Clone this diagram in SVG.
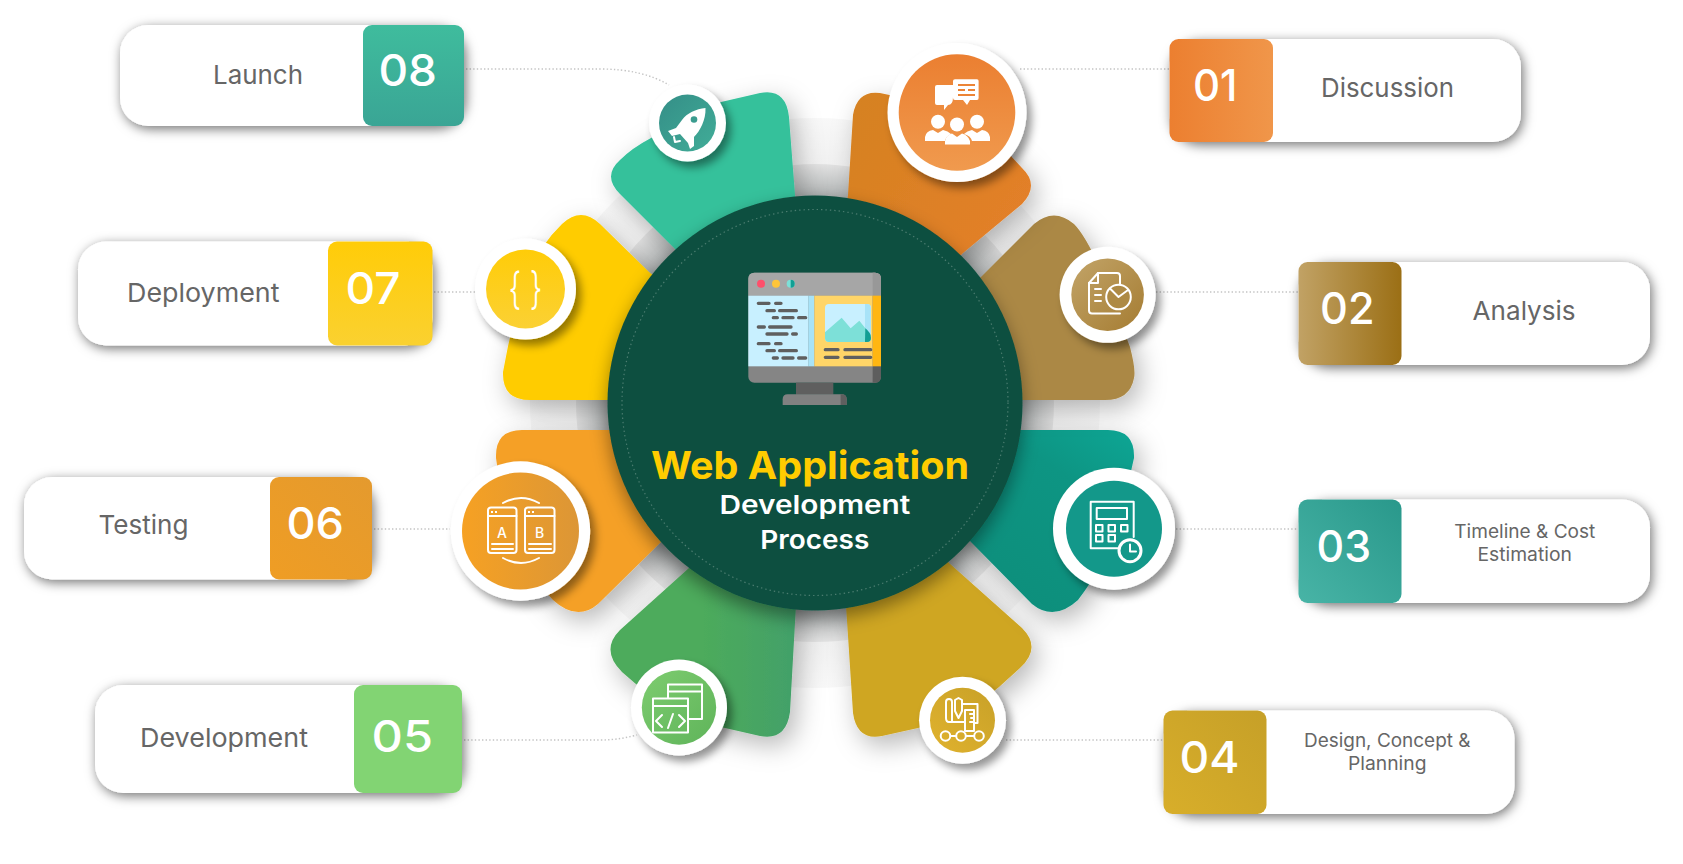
<svg xmlns="http://www.w3.org/2000/svg" width="1683" height="864" viewBox="0 0 1683 864">
<style>
.card{fill:#fff}
.lbl{font-family:"Inter","Liberation Sans",sans-serif;font-size:26px;font-weight:400;fill:#666}
.sm{font-size:18.5px}
.num{font-family:"Inter","Liberation Sans",sans-serif;font-size:44px;font-weight:500;fill:#fff}
.dot{fill:none;stroke:#c4c4c4;stroke-width:1.4;stroke-dasharray:1.4 2.2}
.ic{fill:none;stroke:#fff;stroke-width:2;stroke-linecap:round;stroke-linejoin:round}
.if{fill:#fff;stroke:none}
.code{stroke:#5f5f5f;stroke-width:10;stroke-linecap:round;fill:none}
.title{font-family:"Inter","Liberation Sans",sans-serif;text-anchor:start}
</style>
<defs>
<filter id="sc" x="-15%" y="-30%" width="130%" height="170%"><feDropShadow dx="2" dy="3" stdDeviation="6" flood-color="#000" flood-opacity=".55"/></filter>
<filter id="sp" x="-30%" y="-30%" width="170%" height="170%"><feDropShadow dx="6" dy="9" stdDeviation="13" flood-color="#000" flood-opacity=".28"/></filter>
<filter id="si" x="-30%" y="-30%" width="170%" height="170%"><feDropShadow dx="5" dy="6" stdDeviation="4" flood-color="#000" flood-opacity=".42"/></filter>
<filter id="sb" x="-20%" y="-20%" width="140%" height="140%"><feDropShadow dx="0" dy="8" stdDeviation="9" flood-color="#000" flood-opacity=".4"/></filter>
<radialGradient id="gIn" gradientUnits="userSpaceOnUse" cx="815" cy="403" r="239"><stop offset=".86" stop-color="#aeb2b2"/><stop offset="1" stop-color="#e2e2e2"/></radialGradient>
<radialGradient id="gOut" gradientUnits="userSpaceOnUse" cx="815" cy="403" r="285"><stop offset=".84" stop-color="#f1f1f1"/><stop offset="1" stop-color="#f8f8f8"/></radialGradient>
<linearGradient id="b8" x1="0" y1="0" x2="0" y2="1"><stop offset="0" stop-color="#3fbc9d"/><stop offset="1" stop-color="#3aa595"/></linearGradient>
<linearGradient id="b7" x1="0" y1="0" x2="0" y2="1"><stop offset="0" stop-color="#ffcc08"/><stop offset="1" stop-color="#fad130"/></linearGradient>
<linearGradient id="b6" x1="1" y1="0" x2="0" y2="1"><stop offset="0" stop-color="#e49a2e"/><stop offset="1" stop-color="#ef9d24"/></linearGradient>
<linearGradient id="b1" x1="0" y1="0" x2="1" y2="0"><stop offset="0" stop-color="#ec7f30"/><stop offset="1" stop-color="#f0964a"/></linearGradient>
<linearGradient id="b2" x1="0" y1="0" x2="1" y2="0"><stop offset="0" stop-color="#c1a265"/><stop offset="1" stop-color="#9b6f15"/></linearGradient>
<linearGradient id="b3" x1="1" y1="0" x2="0" y2="1"><stop offset="0" stop-color="#29988b"/><stop offset="1" stop-color="#48b4a6"/></linearGradient>
<linearGradient id="b4" x1="1" y1="0" x2="0" y2="1"><stop offset="0" stop-color="#c6a028"/><stop offset="1" stop-color="#d8ae2a"/></linearGradient>
<linearGradient id="pGreen" x1="0" y1="0" x2="1" y2="0"><stop offset=".45" stop-color="#4dab5b"/><stop offset="1" stop-color="#409e6c"/></linearGradient>
<linearGradient id="pOrange" x1="0" y1="0" x2="1" y2="1"><stop offset="0" stop-color="#d3821f"/><stop offset="1" stop-color="#ea7e2e"/></linearGradient>
<linearGradient id="pTeal" x1="0" y1="1" x2="1" y2="0"><stop offset=".1" stop-color="#0c8b77"/><stop offset=".72" stop-color="#0e9583"/><stop offset="1" stop-color="#12ab9a"/></linearGradient>
<linearGradient id="i8" x1="0" y1="0" x2="1" y2="1"><stop offset="0" stop-color="#348e87"/><stop offset="1" stop-color="#41ad98"/></linearGradient>
<linearGradient id="i1" x1="0" y1="0" x2="0" y2="1"><stop offset="0" stop-color="#eb7f31"/><stop offset="1" stop-color="#f09a4e"/></linearGradient>
<linearGradient id="i2" x1="0" y1="0" x2="1" y2="1"><stop offset="0" stop-color="#c2a468"/><stop offset="1" stop-color="#a57c32"/></linearGradient>
<linearGradient id="i4" x1="0" y1="1" x2="1" y2="0"><stop offset="0" stop-color="#e0b22e"/><stop offset="1" stop-color="#c8a128"/></linearGradient>
<linearGradient id="i5" x1="0" y1="0" x2="1" y2="1"><stop offset="0" stop-color="#7dcc6f"/><stop offset="1" stop-color="#5fb45a"/></linearGradient>
<linearGradient id="i6" x1="0" y1="0" x2="1" y2="0"><stop offset="0" stop-color="#f6a123"/><stop offset="1" stop-color="#dc9636"/></linearGradient>
<linearGradient id="i7" x1="0" y1="0" x2="0" y2="1"><stop offset="0" stop-color="#ffcc08"/><stop offset="1" stop-color="#fbd134"/></linearGradient>
</defs>
<rect width="1683" height="864" fill="#fff"/>

<g id="backdrop">
<circle cx="815" cy="403" r="285" fill="url(#gOut)"/>
<circle cx="815" cy="403" r="239" fill="url(#gIn)"/>
</g>

<g id="connectors">
<path class="dot" d="M466 69H600C630 69 652 75 669 85"/>
<path class="dot" d="M434 292H475"/>
<path class="dot" d="M374 529H450"/>
<path class="dot" d="M464 740H600C615 740 625 738 637 735"/>
<path class="dot" d="M1020 69H1169"/>
<path class="dot" d="M1156 292H1298"/>
<path class="dot" d="M1176 529H1298"/>
<path class="dot" d="M1006 740H1163"/>
</g>

<g id="node-08">
<path filter="url(#sp)" fill="#36c19b" d="M815 403L674 248L620 194Q602 176 620 160Q632 148 651 138Q685 112 721 102L760 93Q786 88 789 117L795 195Z"/>
<circle filter="url(#si)" cx="687.500" cy="123" r="38.500" fill="#fff"/><circle cx="687.500" cy="123" r="28.500" fill="url(#i8)"/>
<path class="if" d="M705.500 108C696 109 687 113 682 120L676 128L668 131L672 136L680 134L688 143L690 149L694 146L694 137C700 131 706 120 705.500 108Z"/>
<circle cx="694" cy="119.500" r="3.300" fill="#3a9c8f"/>
<path class="ic" d="M674 137L675 142L680 141"/>
<g filter="url(#sc)"><rect class="card" x="120" y="25" width="344" height="101" rx="28"/></g>
<rect x="363" y="25" width="101" height="101" rx="9" fill="url(#b8)"/>
<text class="lbl" x="213" y="84" textLength="90" lengthAdjust="spacingAndGlyphs">Launch</text>
<text class="num" x="378.500" y="86" textLength="58.500" lengthAdjust="spacingAndGlyphs">08</text>
</g>

<g id="node-07">
<path filter="url(#sp)" fill="#ffcc05" d="M815 403L649 272L600 224Q581 206 562 224Q540 245 528 275Q512 320 503 372Q502 400 530 400L620 400Z"/>
<circle filter="url(#si)" cx="525.500" cy="289" r="50.500" fill="#fff"/><circle cx="525.500" cy="289" r="39.500" fill="url(#i7)"/>
<text x="525.500" y="304" text-anchor="middle" font-family="Inter,'Liberation Sans',sans-serif" font-size="44" font-weight="300" fill="#fff" textLength="34" lengthAdjust="spacingAndGlyphs">{ }</text>
<g filter="url(#sc)"><rect class="card" x="78" y="241.500" width="354.500" height="104" rx="28"/></g>
<rect x="328" y="241.500" width="104.500" height="104" rx="9" fill="url(#b7)"/>
<text class="lbl" x="127" y="302" textLength="152.500" lengthAdjust="spacingAndGlyphs">Deployment</text>
<text class="num" x="345.500" y="304" textLength="55" lengthAdjust="spacingAndGlyphs">07</text>
</g>

<g id="node-06">
<path filter="url(#sp)" fill="#f5a025" d="M815 403L620 430L522 430Q495 430 496 458L505 520Q520 565 553 600Q577 622 598 604L662 541Z"/>
<circle filter="url(#si)" cx="520.500" cy="531" r="69.700" fill="#fff"/><circle cx="520.500" cy="531" r="58.500" fill="url(#i6)"/>
<g class="ic" stroke-width="1.800">
<rect x="488" y="507.500" width="28.500" height="45.500" rx="3"/><rect x="525" y="507.500" width="29.500" height="45.500" rx="3"/>
<path d="M488 516H516.500M525 516H554.500M492 544H513M492 549H513M529 544H551M529 549H551"/>
<path d="M503 503Q521 493 539 503M503 558Q521 568 539 558"/>
</g>
<path class="if" d="M491 511h2v2h-2zM495 511h2v2h-2zM528 511h2v2h-2zM532 511h2v2h-2z"/>
<text x="502" y="538" text-anchor="middle" font-family="Inter,'Liberation Sans',sans-serif" font-size="14" font-weight="500" fill="#fff">A</text>
<text x="539.500" y="538" text-anchor="middle" font-family="Inter,'Liberation Sans',sans-serif" font-size="14" font-weight="500" fill="#fff">B</text>
<g filter="url(#sc)"><rect class="card" x="24" y="477" width="348" height="102.500" rx="28"/></g>
<rect x="270" y="477" width="102" height="102.500" rx="9" fill="url(#b6)"/>
<text class="lbl" x="98.500" y="534" textLength="90" lengthAdjust="spacingAndGlyphs">Testing</text>
<text class="num" x="286.500" y="538.700" textLength="57.500" lengthAdjust="spacingAndGlyphs">06</text>
</g>

<g id="node-05">
<path filter="url(#sp)" fill="url(#pGreen)" d="M815 403L689 568L620 630Q600 650 622 672Q670 716 725 728L760 736Q786 741 790 712L796 605Z"/>
<circle filter="url(#si)" cx="679" cy="707.500" r="48" fill="#fff"/><circle cx="679" cy="707.500" r="37.200" fill="url(#i5)"/>
<g class="ic" stroke-width="1.500">
<path d="M668 698V684.500H702V719H688"/><path d="M668 691.500H702"/>
<rect x="653" y="698.500" width="35" height="34"/><path d="M653 706H688"/>
<path d="M662 715L656 721L662 727"/><path d="M679 715L685 721L679 727"/><path d="M673 714L668 728"/>
</g>
<g filter="url(#sc)"><rect class="card" x="95" y="685" width="367" height="108" rx="28"/></g>
<rect x="354" y="685" width="108" height="108" rx="9" fill="#82d473"/>
<text class="lbl" x="140" y="747" textLength="168" lengthAdjust="spacingAndGlyphs">Development</text>
<text class="num" x="371.500" y="751.500" textLength="61.500" lengthAdjust="spacingAndGlyphs">05</text>
</g>

<g id="node-04">
<path filter="url(#sp)" fill="#cfa621" d="M815 403L846 605L853 713Q857 741 882 736L918 728Q965 716 999 687L1020 668Q1042 648 1022 628L949 563Z"/>
<circle filter="url(#si)" cx="962.500" cy="720.300" r="43.500" fill="#fff"/><circle cx="962.500" cy="720.300" r="32.500" fill="url(#i4)"/>
<g class="ic" stroke-width="1.300">
<path d="M952 722H949Q946 722 946 718V702Q946 699 949 699Q952 699 952 702V722Z"/>
<path d="M955 705V700L958.500 698L962 700V711L958.500 718L955 711Z"/>
<path d="M963 704H977.500V723H974M952 722H965"/>
<rect x="965" y="710" width="9" height="21"/><path d="M970 714H974M971 718H974M970 722H974"/>
<circle cx="945.500" cy="736" r="4.800"/><circle cx="961" cy="736" r="4.800"/><circle cx="979" cy="736" r="4.800"/>
<path d="M950.500 736H956M966 736H974"/>
</g>
<g filter="url(#sc)"><rect class="card" x="1163.500" y="710.500" width="351" height="103.500" rx="28"/></g>
<rect x="1163.500" y="710.500" width="103" height="103.500" rx="9" fill="url(#b4)"/>
<text class="lbl sm" x="1304" y="746.500" textLength="166.500" lengthAdjust="spacingAndGlyphs">Design, Concept &amp;</text>
<text class="lbl sm" x="1348" y="769.800" textLength="78.500" lengthAdjust="spacingAndGlyphs">Planning</text>
<text class="num" x="1179.500" y="772.700" textLength="60" lengthAdjust="spacingAndGlyphs">04</text>
</g>

<g id="node-03">
<path filter="url(#sp)" fill="url(#pTeal)" d="M815 403L1010 430L1108 430Q1135 430 1134 458L1120 520Q1105 565 1078 600Q1054 622 1032 604L970 541Z"/>
<circle filter="url(#si)" cx="1114" cy="528.700" r="61" fill="#fff"/><circle cx="1114" cy="528.700" r="48" fill="#13988a"/>
<g class="ic" stroke-width="2">
<path d="M1125 548.300H1090.700V501.700H1133.700V537"/><rect x="1096.700" y="508" width="30.300" height="11"/>
<rect x="1096" y="525" width="6.500" height="6.500"/><rect x="1108.500" y="525" width="6.500" height="6.500"/><rect x="1121" y="525" width="6.500" height="6.500"/>
<rect x="1096" y="535" width="6.500" height="6.500"/><rect x="1108.500" y="535" width="6.500" height="6.500"/>
<circle cx="1130" cy="550.700" r="11" stroke-width="3" fill="#13988a"/><path d="M1130 544.500V551.500H1136" stroke-width="2"/>
</g>
<g filter="url(#sc)"><rect class="card" x="1298.500" y="499.500" width="351.500" height="103.500" rx="28"/></g>
<rect x="1298.500" y="499.500" width="103" height="103.500" rx="9" fill="url(#b3)"/>
<text class="lbl sm" x="1454.300" y="537.800" textLength="141" lengthAdjust="spacingAndGlyphs">Timeline &amp; Cost</text>
<text class="lbl sm" x="1477.400" y="560.800" textLength="94.500" lengthAdjust="spacingAndGlyphs">Estimation</text>
<text class="num" x="1316.500" y="561.700" textLength="54.500" lengthAdjust="spacingAndGlyphs">03</text>
</g>

<g id="node-02">
<path filter="url(#sp)" fill="#ab8845" d="M815 403L981 277L1034 224Q1054 207 1074 224Q1085 235 1100 268L1130 347Q1136 370 1134 378Q1130 400 1105 400L1010 400Z"/>
<circle filter="url(#si)" cx="1107.600" cy="294.800" r="48" fill="#fff"/><circle cx="1107.600" cy="294.800" r="36.300" fill="url(#i2)"/>
<g class="ic" stroke-width="2">
<path d="M1120 313.500H1092Q1089 313.500 1089 310.500V283L1098 273H1117Q1120 273 1120 276V285"/>
<path d="M1098 273V283H1089"/><path d="M1095 289H1101M1095 295H1101M1095 301H1101"/>
<circle cx="1118.500" cy="297" r="12.300" fill="#ae8a45"/><path d="M1118.500 297L1110 288.500M1118.500 297L1128 290"/>
</g>
<g filter="url(#sc)"><rect class="card" x="1298.500" y="262" width="351.500" height="103" rx="28"/></g>
<rect x="1298.500" y="262" width="103" height="103" rx="9" fill="url(#b2)"/>
<text class="lbl" x="1472.600" y="320" textLength="103" lengthAdjust="spacingAndGlyphs">Analysis</text>
<text class="num" x="1320" y="323.500" textLength="54.500" lengthAdjust="spacingAndGlyphs">02</text>
</g>

<g id="node-01">
<path filter="url(#sp)" fill="url(#pOrange)" d="M815 403L848 195L853 115Q857 90 880 93L960 110L1010 155L1022 168Q1040 185 1022 204L963 253Z"/>
<circle filter="url(#si)" cx="957" cy="112.500" r="69.500" fill="#fff"/><circle cx="957" cy="112.500" r="58.300" fill="url(#i1)"/>
<path class="if" d="M937 85H953V97Q953 105 948 105L944 110L944 105H937Q935 105 935 103V87Q935 85 937 85Z"/>
<path class="if" d="M955 79.300H977Q978.600 79.300 978.600 81V98Q978.600 100 977 100H970L967 105L963 100H955Q953 100 953 98V81Q953 79.300 955 79.300Z"/>
<path fill="none" stroke="#ec8436" stroke-width="1.800" d="M958 85H975M958 90H965M968 90H975M958 95H975"/>
<circle class="if" cx="938" cy="121.700" r="7"/><circle class="if" cx="957" cy="124.500" r="7"/><circle class="if" cx="977" cy="121.700" r="7"/>
<path class="if" d="M925 141V137Q926 131 933 130L938 133L943 130Q948 131 951 134Q946 136 945 141Z"/>
<path class="if" d="M945 144.500V141Q946 135 952 133.500L957 137L962 133.500Q968 135 970 141V144.500Z"/>
<path class="if" d="M964 134Q967 131 972 130L977 133L982 130Q989 131 990 137V141H972Q971 136 964 134Z"/>
<g filter="url(#sc)"><rect class="card" x="1169.500" y="39" width="351.500" height="103" rx="28"/></g>
<rect x="1169.500" y="39" width="103.500" height="103" rx="9" fill="url(#b1)"/>
<text class="lbl" x="1321" y="96.500" textLength="133" lengthAdjust="spacingAndGlyphs">Discussion</text>
<text class="num" x="1193" y="100.700" textLength="44.500" lengthAdjust="spacingAndGlyphs">01</text>
</g>

<g id="center">
<circle filter="url(#sb)" cx="815" cy="403" r="207.500" fill="#0f4f3f"/>
<circle cx="815" cy="402.500" r="193" fill="none" stroke="#4c7d70" stroke-width="1.200" stroke-dasharray="1.400 3"/>
<g transform="translate(730 260) scale(.3333)">
<rect x="55" y="38" width="398" height="330" rx="18" fill="#858585"/>
<path d="M428 38H435Q453 38 453 56V350Q453 368 435 368H428Z" fill="#5e5e5e"/>
<path d="M55 107V56Q55 38 73 38H435Q453 38 453 56V107Z" fill="#a6a6a6"/>
<path d="M428 38H435Q453 38 453 56V107H428Z" fill="#989898"/>
<rect x="55" y="107" width="180" height="212" fill="#c8f0ff"/><rect x="235" y="107" width="18" height="212" fill="#a8e3f8"/>
<rect x="253" y="107" width="175" height="212" fill="#ffd568"/><rect x="428" y="107" width="25" height="212" fill="#ffb612"/>
<circle cx="93" cy="71" r="12" fill="#ff4f6b"/><circle cx="138" cy="71" r="12" fill="#ffc53a"/><circle cx="182" cy="71" r="12" fill="#7de0d8"/>
<path d="M182 59A12 12 0 0 1 182 83Z" fill="#129f94"/>
<path class="code" d="M85 130H117M137 130H153M111 152H133M149 152H199M130 173H142M159 173H189M206 173H227M85 201H103M119 201H183M111 222H171M188 222H199M85 251H117M137 251H153M111 272H133M149 272H199M130 294H142M159 294H189M206 294H227M286 269H324M345 269H422M286 292H324M345 292H422"/>
<rect x="285" y="132" width="138" height="114" rx="12" fill="#c8f0ff"/>
<path d="M405 132H411Q423 132 423 144V234Q423 246 411 246H405Z" fill="#a8e3f8"/>
<path d="M285 217L335 173L362 205L388 182L423 226V234Q423 246 411 246H297Q285 246 285 234Z" fill="#7de0d8"/>
<path d="M406 205Q423 218 423 234Q423 246 411 246H405Z" fill="#129f94"/>
<rect x="198" y="368" width="112" height="36" fill="#5f5f5f"/>
<path d="M158 435V418Q158 403 173 403H335Q350 403 350 418V435Z" fill="#818181"/>
<path d="M332 403H335Q350 403 350 418V435H332Z" fill="#5f5f5f"/>
</g>
<text class="title" x="651" y="479" font-size="38" font-weight="700" fill="#ffcc00" textLength="318" lengthAdjust="spacingAndGlyphs">Web Application</text>
<text class="title" x="719.400" y="514" font-size="26" font-weight="600" fill="#fff" textLength="191" lengthAdjust="spacingAndGlyphs">Development</text>
<text class="title" x="760.300" y="549" font-size="26" font-weight="600" fill="#fff" textLength="109" lengthAdjust="spacingAndGlyphs">Process</text>
</g>
</svg>
